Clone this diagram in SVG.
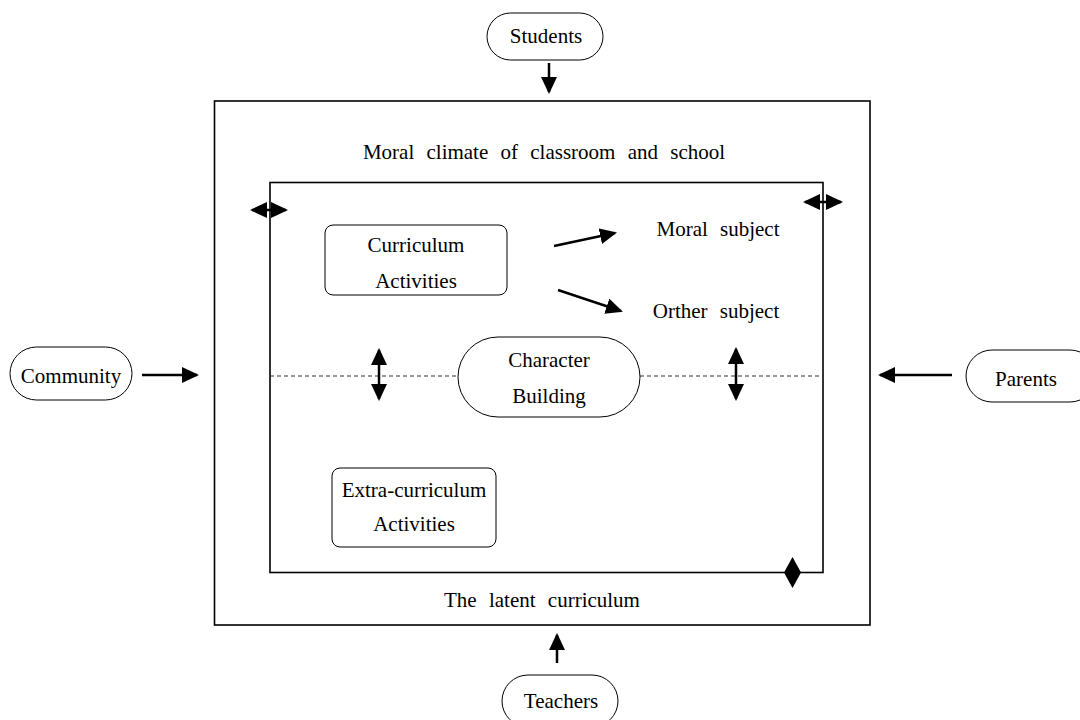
<svg xmlns="http://www.w3.org/2000/svg" width="1080" height="720" viewBox="0 0 1080 720">
<style>
text{font-family:"Liberation Serif","Times New Roman",serif;font-size:21px;fill:#000;text-anchor:middle}
.sp{word-spacing:7px}
.box{fill:none;stroke:#000;stroke-width:1.6}
.nb{fill:#fff;stroke:#000;stroke-width:1}
.ar{stroke:#000;stroke-width:2.5;fill:none}
.dash{stroke:#333;stroke-width:1;stroke-dasharray:4,3;fill:none}
</style>
<defs>
<marker id="ah" viewBox="0 0 17 16" refX="15" refY="8" markerWidth="17" markerHeight="16" orient="auto-start-reverse" markerUnits="userSpaceOnUse">
<path d="M0,0 L17,8 L0,16 z" fill="#000"/>
</marker>
</defs>
<rect width="1080" height="720" fill="#fff"/>
<g id="outer"><rect class="box" x="214.5" y="101" width="655.5" height="524"/></g>
<g id="inner"><rect class="box" x="270" y="182.5" width="553" height="390"/></g>
<g id="texts">
<text class="sp" x="544" y="159">Moral climate of classroom and school</text>
<text class="sp" x="718" y="236">Moral subject</text>
<text class="sp" x="716" y="318">Orther subject</text>
<text class="sp" x="542" y="607">The latent curriculum</text>
</g>
<g id="connectors">
<line class="dash" x1="270" y1="376" x2="458" y2="376"/>
<line class="dash" x1="640" y1="376" x2="823" y2="376"/>
<line class="ar" x1="549" y1="63" x2="549" y2="92" marker-end="url(#ah)"/>
<line class="ar" x1="142" y1="375" x2="197" y2="375" marker-end="url(#ah)"/>
<line class="ar" x1="952" y1="375" x2="880" y2="375" marker-end="url(#ah)"/>
<line class="ar" x1="557" y1="663" x2="557" y2="635" marker-end="url(#ah)"/>
<line class="ar" x1="554" y1="246" x2="615" y2="233" marker-end="url(#ah)"/>
<line class="ar" x1="558" y1="290" x2="621" y2="311" marker-end="url(#ah)"/>
<line class="ar" x1="379" y1="350" x2="379" y2="399" marker-start="url(#ah)" marker-end="url(#ah)"/>
<line class="ar" x1="736" y1="349" x2="736" y2="399" marker-start="url(#ah)" marker-end="url(#ah)"/>
<line class="ar" x1="252" y1="210" x2="286" y2="210" marker-start="url(#ah)" marker-end="url(#ah)"/>
<line class="ar" x1="805" y1="202" x2="841" y2="202" marker-start="url(#ah)" marker-end="url(#ah)"/>
<path d="M792.5,557 L801,572.5 L792.5,588 L784,572.5 Z" fill="#000"/>
</g>
<g id="students"><rect class="nb" x="487" y="13" width="116" height="47" rx="23.5"/><text x="546" y="43">Students</text></g>
<g id="community"><rect class="nb" x="10" y="347" width="122" height="53" rx="26.5"/><text x="71" y="383">Community</text></g>
<g id="parents"><rect class="nb" x="966" y="350" width="130" height="52" rx="26"/><text x="1026" y="386">Parents</text></g>
<g id="teachers"><rect class="nb" x="502" y="675" width="116" height="52" rx="26"/><text x="561" y="708">Teachers</text></g>
<g id="curriculum"><rect class="nb" x="325" y="225" width="182" height="70" rx="8"/><text x="416" y="252">Curriculum</text><text x="416" y="288">Activities</text></g>
<g id="extra"><rect class="nb" x="332" y="468" width="164" height="79" rx="8"/><text x="414" y="497">Extra-curriculum</text><text x="414" y="531">Activities</text></g>
<g id="character"><rect class="nb" x="458" y="337" width="182" height="80" rx="40"/><text x="549" y="367">Character</text><text x="549" y="403">Building</text></g>
</svg>
